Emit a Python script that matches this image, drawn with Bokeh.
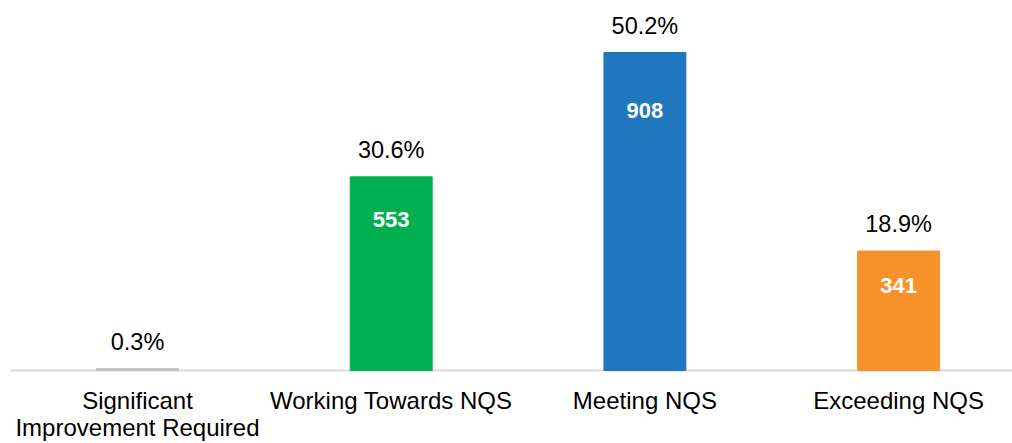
from bokeh.plotting import figure
from bokeh.models import ColumnDataSource, Range1d
from bokeh.core.properties import value
from bokeh.embed import file_html
from bokeh.resources import INLINE

categories = ["Significant\nImprovement Required", "Working Towards NQS", "Meeting NQS", "Exceeding NQS"]
counts = [5, 553, 908, 341]
percent_labels = ["0.3%", "30.6%", "50.2%", "18.9%"]
count_labels = ["", "553", "908", "341"]
colors = ["#bfbfbf", "#00b050", "#2177be", "#f7922b"]
count_label_offsets = [0, 43, 58, 34]

xs = list(range(len(categories)))
src = ColumnDataSource(dict(x=xs, top=counts, pct=percent_labels, cnt=count_labels,
                            color=colors, off=count_label_offsets,
                            cat=categories, zero=[0] * len(xs)))

W, H = 1012, 443
first_center_px = 137
baseline_px = 370
px_per_cat = 253.7
px_per_unit = 0.3502

x0 = -first_center_px / px_per_cat
p = figure(width=W, height=H, output_backend="svg", toolbar_location=None,
           x_range=Range1d(x0, x0 + W / px_per_cat),
           y_range=Range1d(-(H - baseline_px) / px_per_unit, baseline_px / px_per_unit),
           min_border_left=0, min_border_right=0, min_border_top=0, min_border_bottom=0)
p.outline_line_color = None
p.xgrid.visible = False
p.ygrid.visible = False
p.xaxis.visible = False
p.yaxis.visible = False
p.background_fill_color = "white"
p.border_fill_color = "white"

# category axis line
p.segment(x0=[xs[0] - 0.5], y0=[0], x1=[xs[-1] + 0.5], y1=[0], line_color="#d9d9d9", line_width=2)

p.vbar(x="x", top="top", width=0.323, bottom=0, color="color", source=src)

p.text(x="x", y="top", text="pct", source=src, text_align="center", text_baseline="alphabetic",
       y_offset=-27, text_font=value("Liberation Sans"), text_font_size="23.5px", text_color="#000000")
p.text(x="x", y="top", text="cnt", source=src, text_align="center", text_baseline="middle",
       y_offset="off", text_font=value("Liberation Sans"), text_font_size="22px",
       text_font_style="bold", text_color="white")

p.text(x="x", y="zero", text="cat", source=src, text_align="center", text_baseline="top",
       y_offset=16, text_font=value("Liberation Sans"), text_font_size="24px",
       text_color="#000000", text_line_height=1.03)

open("out.html", "w").write(file_html(p, INLINE))
